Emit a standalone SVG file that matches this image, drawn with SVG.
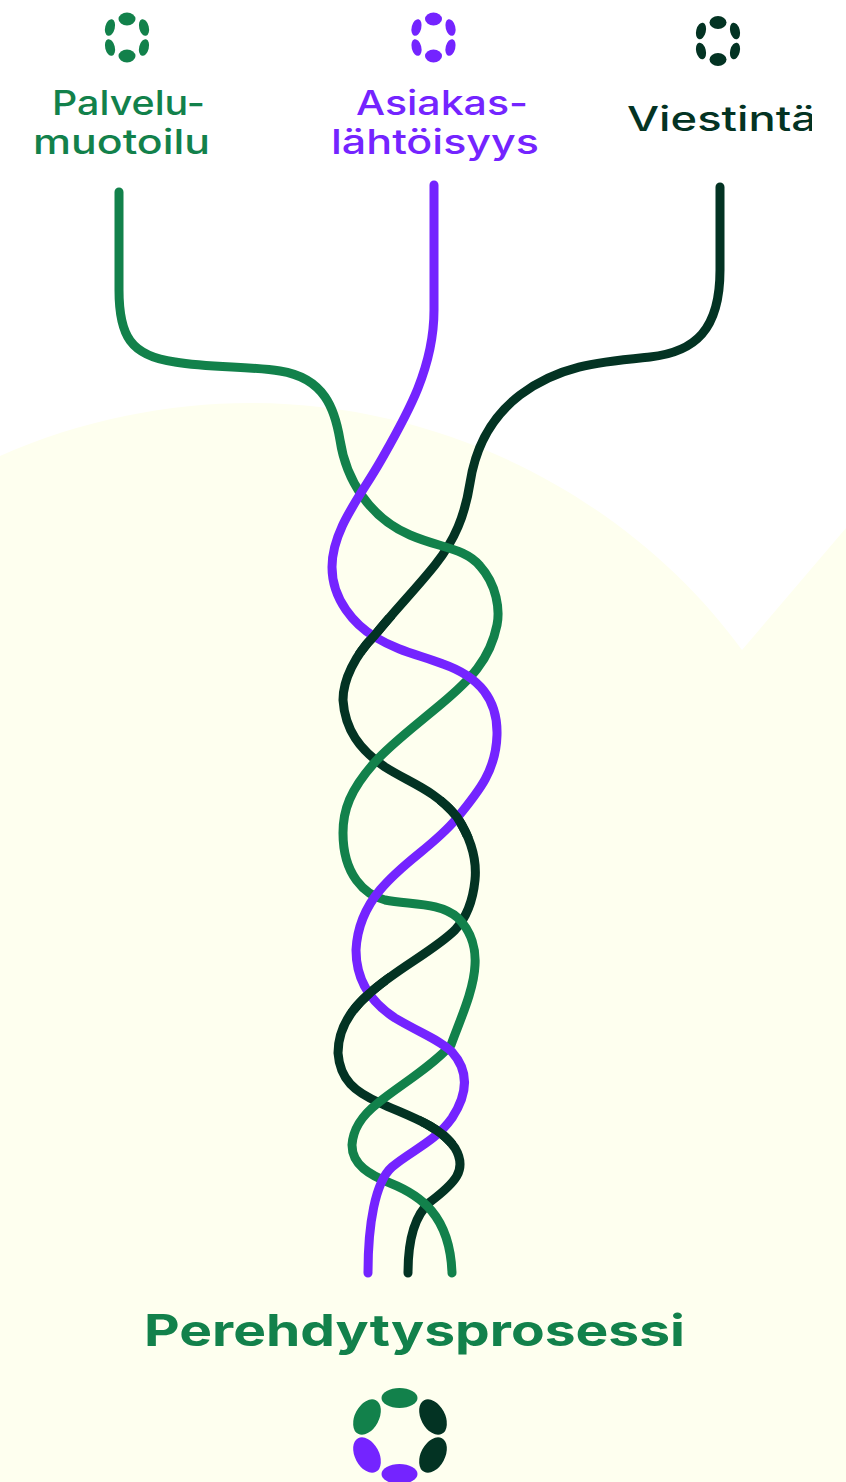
<svg xmlns="http://www.w3.org/2000/svg" xmlns:xlink="http://www.w3.org/1999/xlink" width="846" height="1482" viewBox="0 0 846 1482">
<style>
.s{fill:none;stroke-width:9;stroke-linecap:round;stroke-linejoin:round}
.g{stroke:#12814b}.p{stroke:#7424ff}.d{stroke:#033323}
.fg{fill:#12814b}.fp{fill:#7424ff}.fd{fill:#033323}
text{font-family:Inter,"Liberation Sans",sans-serif;font-weight:500;font-size:34px;text-anchor:start}
</style>
<defs>
<path id="black" d="M720 187V270C720 330 695 352 650 357C600 362 560 365 520 395C490 418 475 450 470 483C465 515 455 540 435 565C415 590 395 610 375 635C355 655 343 680 343 700C345 730 360 750 385 767C410 783 435 790 457 817C472 840 477 860 475 880C473 900 468 916 455 930C435 950 395 970 370 993C350 1010 338 1030 338 1053C340 1080 355 1092 380 1103C405 1115 440 1125 455 1148C468 1170 455 1183 430 1202C415 1215 408 1240 408 1273"/>
<clipPath id="over"><rect x="355" y="615" width="40" height="40"/><rect x="437" y="797" width="40" height="40"/><rect x="348" y="973" width="40" height="40"/><rect x="420" y="1110" width="36" height="36"/></clipPath>
<clipPath id="vclip"><rect x="600" y="80" width="212" height="70"/></clipPath>
<g id="ring"><ellipse cx="0" cy="-18.500" rx="8.500" ry="6.500"/><ellipse cx="0" cy="18.500" rx="8.500" ry="6.500"/><ellipse cx="-17" cy="-10" rx="4.800" ry="8.500" transform="rotate(14 -17 -10)"/><ellipse cx="17" cy="-10" rx="4.800" ry="8.500" transform="rotate(-14 17 -10)"/><ellipse cx="-17" cy="10" rx="4.800" ry="8.500" transform="rotate(-14 -17 10)"/><ellipse cx="17" cy="10" rx="4.800" ry="8.500" transform="rotate(14 17 10)"/></g>
</defs>
<rect width="846" height="1482" fill="#fff"/>
<path id="hill" fill="#feffef" d="M0 456C80 420 170 403 250 403C460 403 640 510 742 650L846 528V1482H0Z"/>
<g id="connectors">
<use xlink:href="#black" href="#black" class="s d"/>
<path class="s g" d="M119 192V290C119 335 130 356 175 362C210 368 250 366 280 371C325 378 335 410 340 440C346 480 370 518 410 535C440 548 465 548 480 566C497 585 500 610 497 625C490 660 470 680 440 705C410 730 390 745 375 762C350 790 343 810 343 833C343 875 365 895 385 900C410 905 440 902 458 918C472 932 476 950 475 965C474 990 460 1020 451 1045C430 1068 400 1085 378 1103C360 1117 353 1130 352 1145C352 1165 370 1175 390 1183C420 1195 450 1215 452 1273"/>
<path class="s p" d="M434 185V310C434 370 405 418 380 462C360 497 332 530 332 567C332 600 355 625 375 637C400 652 420 655 443 664C480 677 498 700 497 735C496 770 480 790 457 818C433 847 405 860 380 890C365 908 357 930 356 950C356 985 375 1005 395 1018C420 1033 440 1040 452 1052C470 1072 467 1095 452 1118C435 1142 412 1150 392 1167C375 1182 368 1225 368 1273"/>
<g clip-path="url(#over)"><use xlink:href="#black" href="#black" class="s d"/></g>
</g>
<g id="palvelu"><use xlink:href="#ring" href="#ring" class="fg" transform="translate(127 37.500)"/>
<text class="fg" x="52" y="115" textLength="153" lengthAdjust="spacingAndGlyphs">Palvelu-</text>
<text class="fg" x="33" y="154" textLength="177" lengthAdjust="spacingAndGlyphs">muotoilu</text></g>
<g id="asiakas"><use xlink:href="#ring" href="#ring" class="fp" transform="translate(433.500 37.500)"/>
<text class="fp" x="356" y="115" textLength="172" lengthAdjust="spacingAndGlyphs">Asiakas-</text>
<text class="fp" x="331" y="154" textLength="208" lengthAdjust="spacingAndGlyphs">lähtöisyys</text></g>
<g id="viestinta"><use xlink:href="#ring" href="#ring" class="fd" transform="translate(718 41)"/>
<g clip-path="url(#vclip)"><text class="fd" x="627" y="131" textLength="190" lengthAdjust="spacingAndGlyphs">Viestintä</text></g></g>
<g id="perehdytys"><text class="fg" x="144" y="1346" textLength="541" lengthAdjust="spacingAndGlyphs" style="font-size:44px;font-weight:700">Perehdytysprosessi</text>
<ellipse class="fg" cx="399.500" cy="1398" rx="18" ry="10"/>
<ellipse class="fg" cx="367" cy="1417" rx="19" ry="12" transform="rotate(-62 367 1417)"/>
<ellipse class="fd" cx="433" cy="1417" rx="19" ry="12" transform="rotate(62 433 1417)"/>
<ellipse class="fd" cx="433" cy="1455" rx="19" ry="12" transform="rotate(-62 433 1455)"/>
<ellipse class="fp" cx="367" cy="1455" rx="19" ry="12" transform="rotate(62 367 1455)"/>
<ellipse class="fp" cx="399.500" cy="1474" rx="18" ry="10"/></g>
</svg>
